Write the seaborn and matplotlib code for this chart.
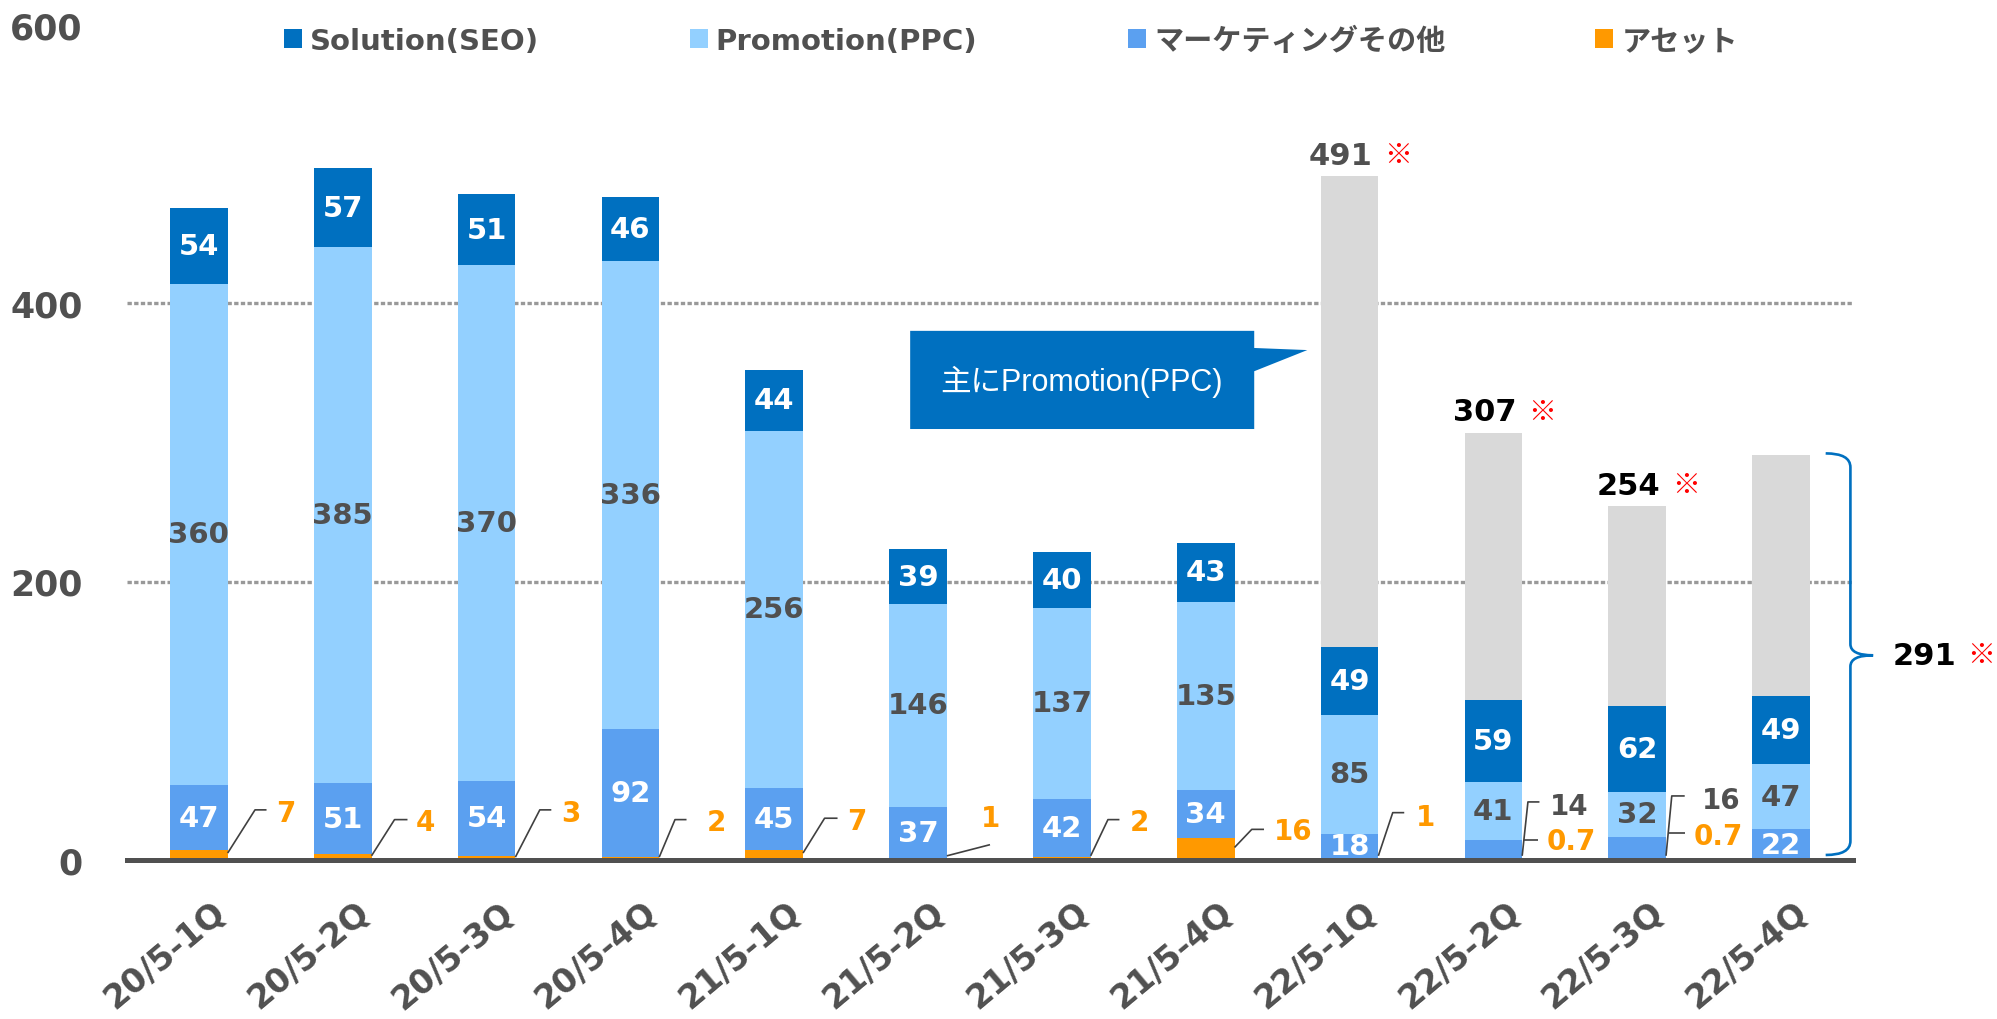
import numpy as np
import matplotlib
matplotlib.use("Agg")
import matplotlib.pyplot as plt
import seaborn as sns
from matplotlib.patches import Patch, Polygon, PathPatch
from matplotlib.path import Path
from matplotlib.transforms import ScaledTranslation
from matplotlib.font_manager import FontProperties

# ---- data ----
quarters = ["20/5-1Q", "20/5-2Q", "20/5-3Q", "20/5-4Q",
            "21/5-1Q", "21/5-2Q", "21/5-3Q", "21/5-4Q",
            "22/5-1Q", "22/5-2Q", "22/5-3Q", "22/5-4Q"]
solution = [54, 57, 51, 46, 44, 39, 40, 43, 49, 59, 62, 49]
promotion = [360, 385, 370, 336, 256, 146, 137, 135, 85, 41, 32, 47]
marketing = [47, 51, 54, 92, 45, 37, 42, 34, 18, 14, 16, 22]
asset = [7, 4, 3, 2, 7, 1, 2, 16, 1, 0.7, 0.7, 0]
totals = [None] * 8 + [491, 307, 254, 291]
series_names = ["Solution(SEO)", "Promotion(PPC)", "マーケティングその他", "アセット"]

# ---- style ----
C_SOL = "#0070C0"
C_PRO = "#93D0FF"
C_MKT = "#5BA0F0"
C_AST = "#FF9900"
C_GRAY = "#D9D9D9"
DARK = "#505050"

sns.set_theme(style="white")
plt.rcParams["font.family"] = ["DejaVu Sans", "Noto Sans CJK JP"]

a = np.array(asset, float)
m = a + np.array(marketing)
p = m + np.array(promotion)
s = p + np.array(solution)
tot = np.array([t if t is not None else v for t, v in zip(totals, s)])

fig = plt.figure(figsize=(19.97, 10.20), dpi=100)
ax = fig.add_axes([127 / 1997, 159 / 1020, 1726 / 1997, 835.5 / 1020])

# stacked bars drawn as overlapping cumulative bars
for vals, col in [(tot, C_GRAY), (s, C_SOL), (p, C_PRO), (m, C_MKT), (a, C_AST)]:
    sns.barplot(x=quarters, y=vals, color=col, width=0.4, saturation=1,
                errorbar=None, linewidth=0, ax=ax, zorder=2)

ax.set_xlim(-0.5, 11.5)
ax.set_ylim(0, 600)
ax.set_xlabel("")
ax.set_ylabel("")

for sp in ["top", "right", "left"]:
    ax.spines[sp].set_visible(False)
ax.spines["bottom"].set_color(DARK)
ax.spines["bottom"].set_linewidth(3.6)
ax.spines["bottom"].set_zorder(4)

# y axis
ax.set_yticks([0, 200, 400, 600])
ax.set_yticklabels(["0", "200", "400", "600"], fontsize=25, fontweight="bold", color=DARK)
ax.tick_params(axis="y", length=0, pad=32)
ax.set_axisbelow(True)
ax.grid(axis="y", color="#999999", linestyle=(0, (1.3, 0.7)), linewidth=2.4)
ax.yaxis.get_gridlines()[-1].set_visible(False)

# x axis
ax.set_xticks(range(len(quarters)))
ax.set_xticklabels(quarters, rotation=40, ha="right", va="center", rotation_mode="anchor",
                   fontsize=24, fontweight="bold", color=DARK)
ax.tick_params(axis="x", which="major", length=0, pad=34)
ax.set_xticks(np.arange(-0.5, 12, 1), minor=True)
ax.tick_params(axis="x", which="minor", length=7, width=3, color=DARK, direction="out")
shift = ScaledTranslation(0.22, 0, fig.dpi_scale_trans)
for lab in ax.get_xticklabels():
    lab.set_transform(lab.get_transform() + shift)

# labels inside segments
lab_kw = dict(ha="center", va="center", fontsize=21, fontweight="bold", zorder=5)
for i in range(len(quarters)):
    ax.text(i, p[i] + solution[i] / 2, f"{solution[i]:g}", color="white", **lab_kw)
    ax.text(i, m[i] + promotion[i] / 2, f"{promotion[i]:g}", color=DARK, **lab_kw)
    if i not in (9, 10):
        ax.text(i, a[i] + marketing[i] / 2, f"{marketing[i]:g}", color="white", **lab_kw)

# outside labels with leader lines: (bar, [(dx from bar edge, y), ...], text dx, text y)
asset_callouts = [
    (0, [(0, 5), (0.19, 36), (0.27, 36)], 0.34, 34),
    (1, [(0, 3), (0.16, 29), (0.25, 29)], 0.31, 27),
    (2, [(0, 2), (0.17, 36), (0.25, 36)], 0.32, 34),
    (3, [(0, 2), (0.11, 29), (0.19, 29)], 0.33, 27),
    (4, [(0, 5), (0.15, 30), (0.24, 30)], 0.31, 28),
    (5, [(0, 3), (0.30, 11)], 0.24, 30),
    (6, [(0, 3), (0.12, 29), (0.20, 29)], 0.27, 27),
    (7, [(0, 9), (0.12, 22), (0.205, 22)], 0.275, 21),
    (8, [(0, 3), (0.10, 34), (0.18, 34)], 0.26, 31),
    (9, [(0.01, 14.6), (0.11, 14.6)], 0.17, 13.9),
    (10, [(0.02, 19.4), (0.13, 19.4)], 0.19, 17.5),
]
mkt_callouts = [
    (9, [(0, 3), (0.04, 41.7), (0.12, 41.7)], 0.19, 39),
    (10, [(0, 3), (0.04, 46), (0.13, 46)], 0.25, 43.3),
]
out_kw = dict(ha="left", va="center", fontsize=20, fontweight="bold", zorder=5)
for values, callouts, col in [(asset, asset_callouts, C_AST), (marketing, mkt_callouts, DARK)]:
    for i, pts, tdx, ty in callouts:
        edge = i + 0.2
        xs = [edge + dx for dx, _ in pts]
        ys = [y for _, y in pts]
        ax.plot(xs, ys, color="#404040", lw=1.2, zorder=3, solid_capstyle="butt")
        ax.text(edge + tdx, ty, f"{values[i]:g}", color=col, **out_kw)

# totals above the later bars
for i, t in enumerate(totals[:-1]):
    if t is None:
        continue
    ax.text(i - 0.06, t + 15, f"{t}", ha="center", va="center", fontsize=22,
            fontweight="bold", color=DARK if i == 8 else "black", zorder=5)
    ax.text(i + 0.34, t + 15, "※", ha="center", va="center", fontsize=20,
            color="red", family="Noto Sans CJK JP", zorder=5)

# brace for the last quarter
bx, top, bot, mid, hx, tx = 11.482, 292, 3.6, 147, 11.31, 11.64
verts = [(hx, top), (bx, top), (bx, top - 10),
         (bx, mid + 8), (bx, mid), (tx, mid), (bx, mid), (bx, mid - 8),
         (bx, bot + 10), (bx, bot), (hx, bot)]
codes = [Path.MOVETO, Path.CURVE3, Path.CURVE3,
         Path.LINETO, Path.CURVE3, Path.CURVE3, Path.CURVE3, Path.CURVE3,
         Path.LINETO, Path.CURVE3, Path.CURVE3]
ax.add_patch(PathPatch(Path(verts, codes), fill=False, edgecolor=C_SOL, lw=1.9,
                       clip_on=False, zorder=5))
ax.text(12.0, 147, f"{totals[-1]}", ha="center", va="center", fontsize=22,
        fontweight="bold", color="black", clip_on=False)
ax.text(12.39, 147, "※", ha="center", va="center", fontsize=20, color="red",
        family="Noto Sans CJK JP", clip_on=False)

# speech-bubble callout
bubble = Polygon([(4.945, 380), (7.337, 380), (7.337, 367.7), (7.706, 366.2),
                  (7.337, 351), (7.337, 309.5), (4.945, 309.5)],
                 closed=True, facecolor=C_SOL, edgecolor="none", zorder=6)
ax.add_patch(bubble)
ax.text(6.134, 344, "主にPromotion(PPC)", ha="center", va="center", fontsize=22,
        color="white", family=["Liberation Sans", "Noto Sans CJK JP"], zorder=7)

# legend
handles = [Patch(facecolor=c, edgecolor="none") for c in (C_SOL, C_PRO, C_MKT, C_AST)]
leg = fig.legend(handles, series_names, loc="center left",
                 bbox_to_anchor=(284 / 1997, 1 - 42 / 1020), ncol=4, frameon=False,
                 handlelength=0.62, handleheight=0.62, handletextpad=0.28,
                 columnspacing=5.15, borderpad=0, borderaxespad=0,
                 prop=FontProperties(family=["DejaVu Sans", "Noto Sans CJK JP"],
                                     weight="bold", size=21))
for t in leg.get_texts():
    t.set_color(DARK)

fig.savefig("out.png", dpi=100)
